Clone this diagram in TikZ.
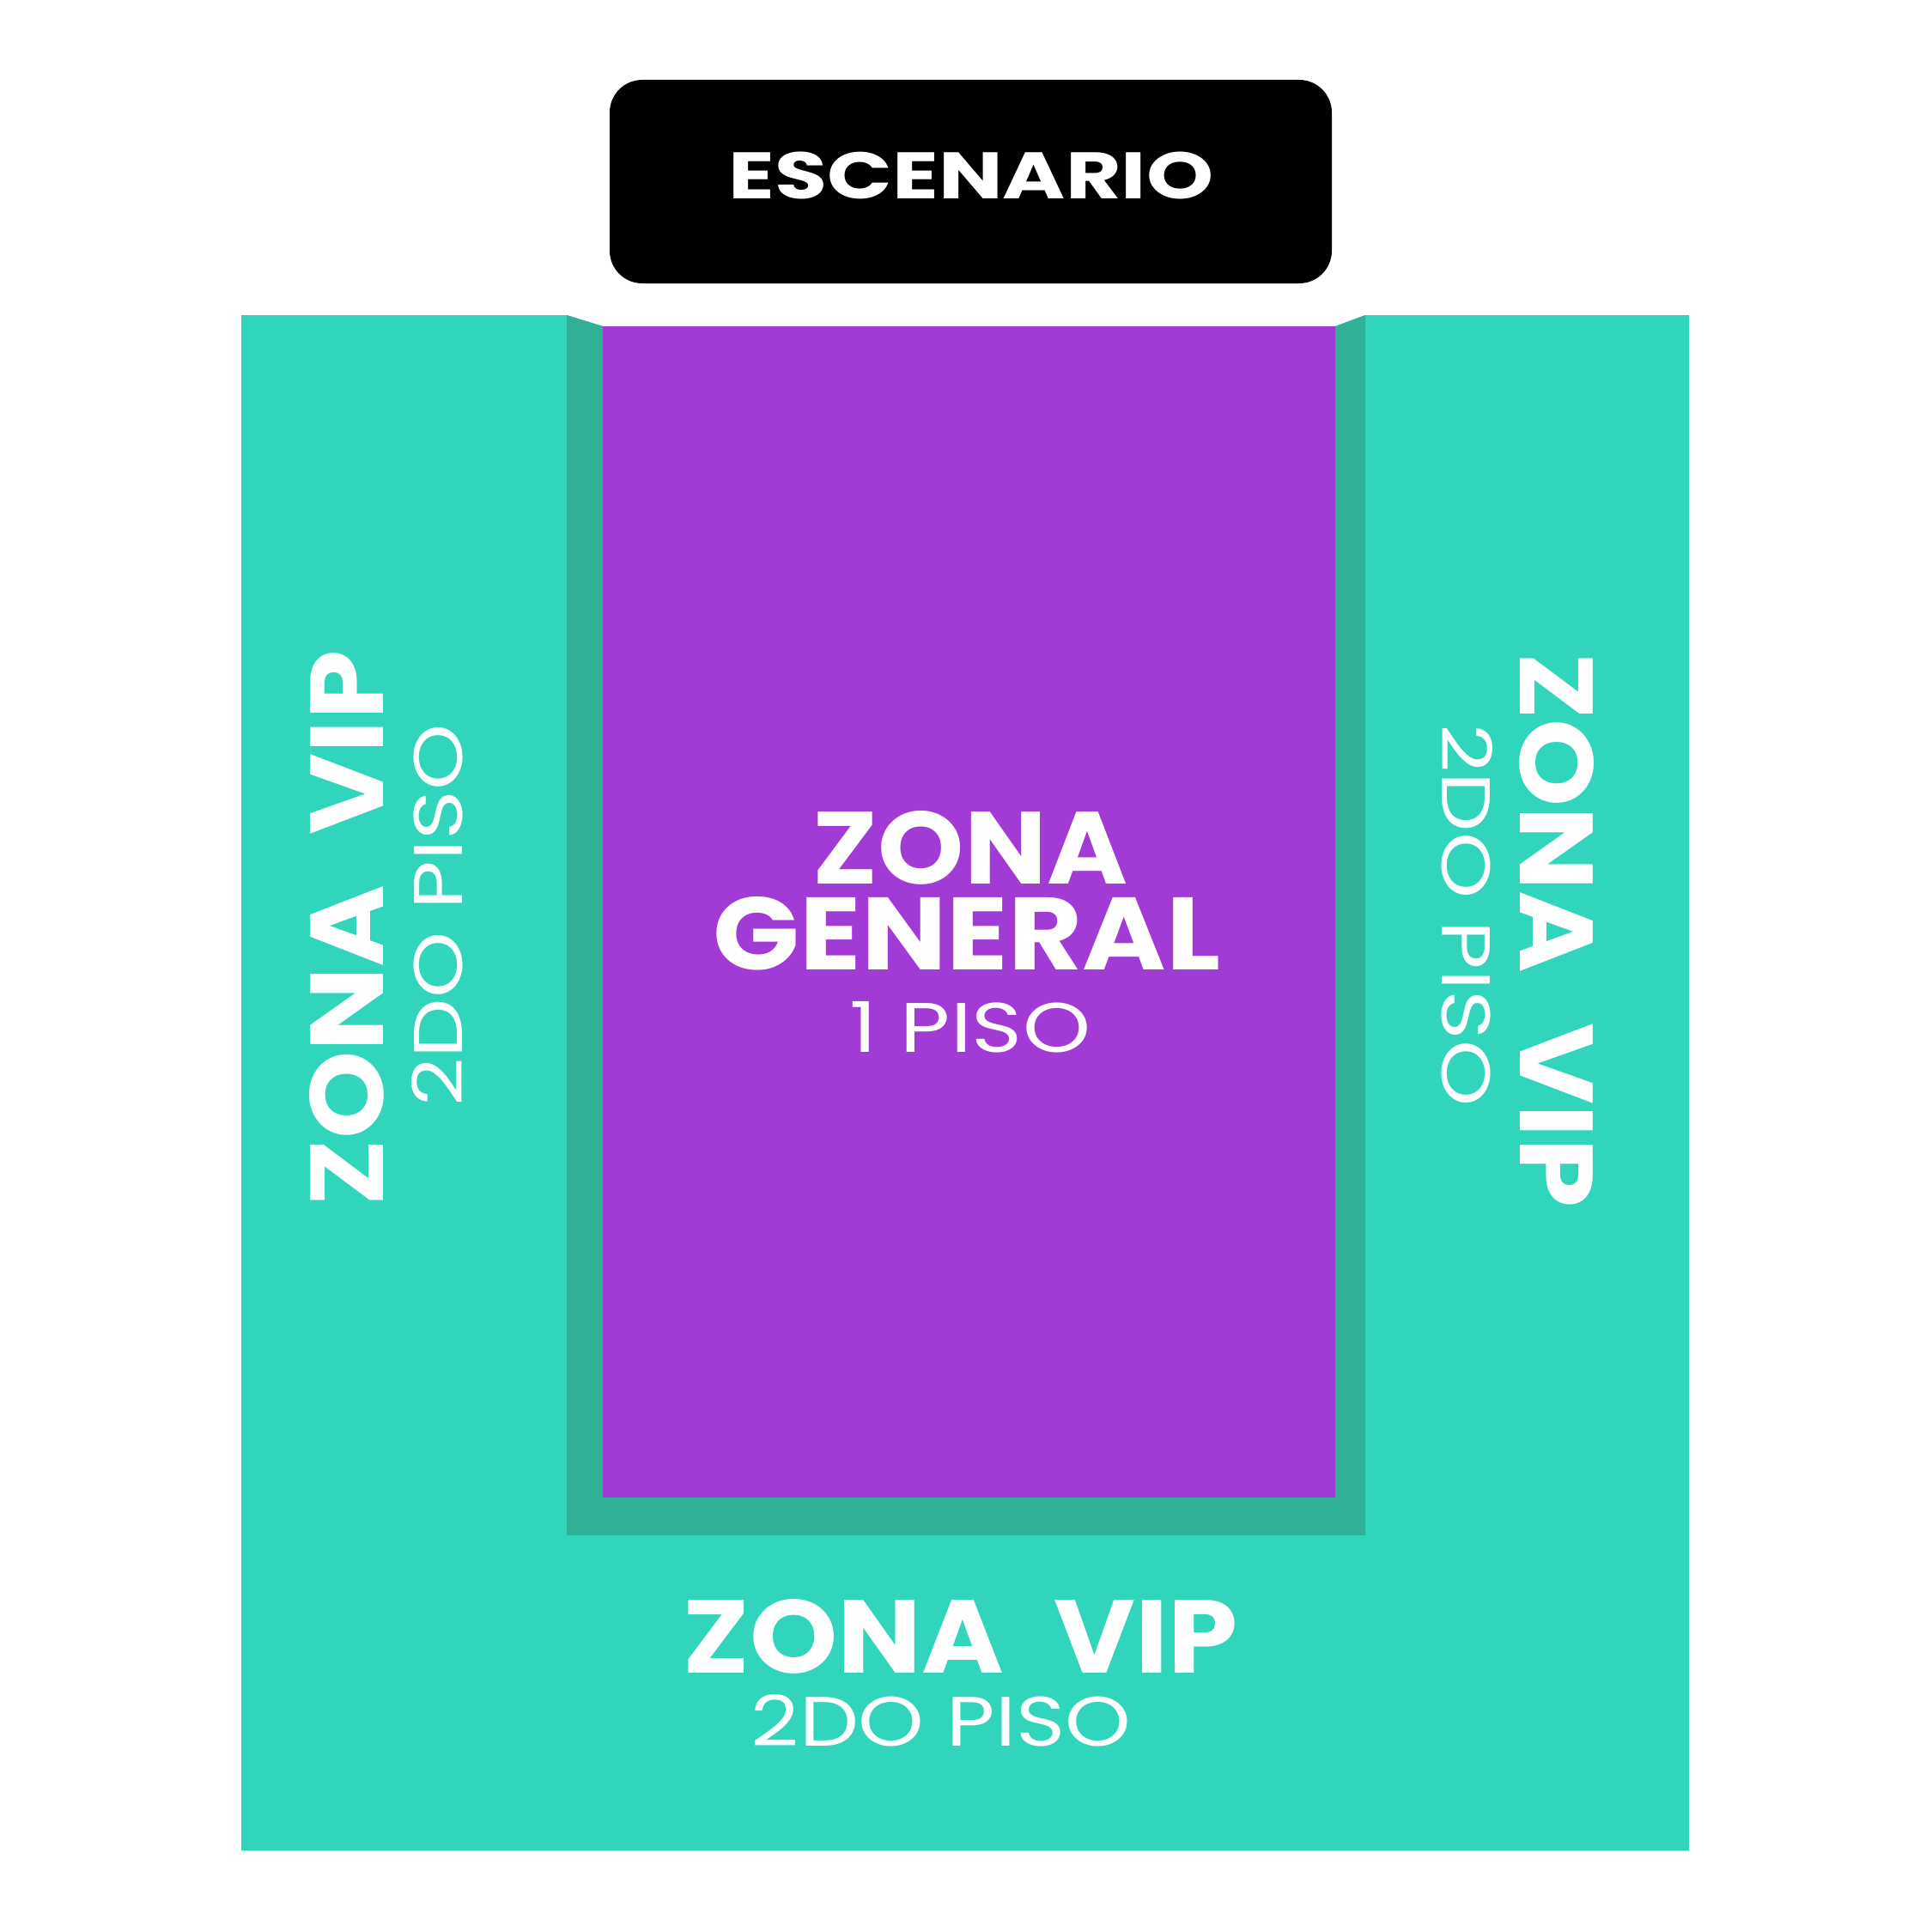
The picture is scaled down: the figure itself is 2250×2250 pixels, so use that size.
\documentclass[tikz,border=0pt]{standalone}
\usepackage{graphicx}
\usepackage{fontspec}
\setmainfont{Poppins}
\definecolor{vipteal}{HTML}{31D5BC}
\definecolor{darkteal}{HTML}{30B096}
\definecolor{genpurple}{HTML}{A23BD6}
\tikzset{
  lbl/.style={text=white, inner sep=0pt, anchor=center},
}
\newcommand{\bigtxt}[3]{\raisebox{0pt}[\height][0pt]{\resizebox{#1pt}{#2pt}{\bfseries #3}}}
\newcommand{\smalltxt}[3]{\raisebox{0pt}[\height][0pt]{\resizebox{#1pt}{#2pt}{#3}}}
\begin{document}
\begin{tikzpicture}[x=1pt,y=-1pt]
\useasboundingbox[fill=white] (0,0) rectangle (2250,2250);
% VIP area
\fill[vipteal] (281,367) -- (660,367) -- (702,380) -- (1555,380) -- (1590,367) -- (1967,367) -- (1967,2155) -- (281,2155) -- cycle;
% dark border around general
\fill[darkteal] (660,367) -- (702,380) -- (1555,380) -- (1590,367) -- (1590,1788) -- (660,1788) -- cycle;
% general
\fill[genpurple] (702,380) rectangle (1555,1744);
% stage
\fill[black, rounded corners=38pt] (710,93) rectangle (1551,330);

\node[lbl] (escenario) at (1131,204) {\bigtxt{564}{54.5}{ESCENARIO}};
\node[lbl] (zona) at (1130,986.5) {\bigtxt{366}{85}{ZONA}};
\node[lbl] (general) at (1126,1087) {\bigtxt{590}{85}{GENERAL}};
\node[lbl] (piso1) at (1130,1196) {\smalltxt{280}{59}{1 PISO}};

\node[lbl, rotate=90] (vipl) at (403,1081) {\bigtxt{647}{86}{ZONA\hspace{0.45em}VIP}};
\node[lbl, rotate=90] (pisol) at (508.7,1066) {\smalltxt{445}{59}{2DO PISO}};

\node[lbl, rotate=-90] (vipr) at (1813.7,1083.3) {\bigtxt{646}{86}{ZONA\hspace{0.45em}VIP}};
\node[lbl, rotate=-90] (pisor) at (1709,1066) {\smalltxt{445}{59}{2DO PISO}};

\node[lbl] (vipb) at (1119,1905.5) {\bigtxt{646}{86}{ZONA\hspace{0.45em}VIP}};
\node[lbl] (pisob) at (1096,2003) {\smalltxt{442}{60}{2DO PISO}};
\end{tikzpicture}
\end{document}
